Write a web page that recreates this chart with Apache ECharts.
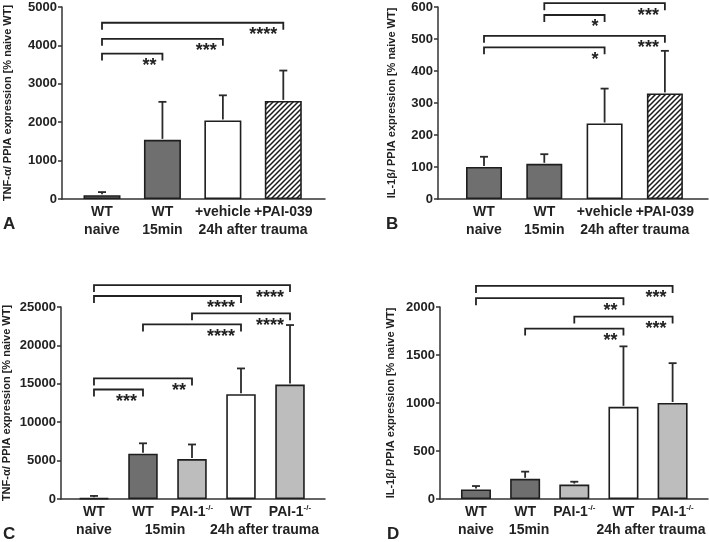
<!DOCTYPE html>
<html><head><meta charset="utf-8">
<script src="https://cdn.jsdelivr.net/npm/echarts@6/dist/echarts.min.js"></script>
<style>html,body{margin:0;padding:0;background:#fff}#c{width:709px;height:542px}</style>
</head><body><div id="c"></div>
<script>
// ---------- DATA ----------
// Panel A : TNF-alpha, PAI-039 treatment
const catsA = ['WT', 'WT', '+vehicle', '+PAI-039'];
const groupsA = ['naive', '15min', '24h after trauma'];
const groupPosA = [0, 1, 2.5];
const meanA = [100, 1540, 2045, 2555];
const errTopA = [180, 2530, 2700, 3345];
const bracketsA = [[0, 3, 4590, '****'], [0, 2, 4170, '***'], [0, 1, 3786, '**']];
const yAxisA = { max: 5000, interval: 1000 };

// Panel B : IL-1beta, PAI-039 treatment
const catsB = ['WT', 'WT', '+vehicle', '+PAI-039'];
const groupsB = ['naive', '15min', '24h after trauma'];
const groupPosB = [0, 1, 2.5];
const meanB = [100, 110, 236, 330];
const errTopB = [132, 140, 345, 463];
const bracketsB = [[1, 3, 612, '***'], [1, 2, 575, '*'], [0, 3, 510, '***'], [0, 2, 474, '*']];
const yAxisB = { max: 600, interval: 100 };

// Panel C : TNF-alpha, PAI-1 knockout
const catsC = ['WT', 'WT', 'PAI-1', 'WT', 'PAI-1'];
const supC = [false, false, true, false, true];
const groupsC = ['naive', '15min', '24h after trauma'];
const groupPosC = [0, 1.45, 3.48];
const meanC = [100, 5900, 5200, 13650, 14900];
const errTopC = [400, 7250, 7100, 17000, 22650];
const bracketsC = [[0, 4, 27860, '****'], [0, 3, 26430, '****'], [2, 4, 24170, '****'],
                   [1, 3, 22730, '****'], [0, 2, 15700, '**'], [0, 1, 14260, '***']];
const yAxisC = { max: 25000, interval: 5000 };

// Panel D : IL-1beta, PAI-1 knockout
const catsD = ['WT', 'WT', 'PAI-1', 'WT', 'PAI-1'];
const supD = [false, false, true, false, true];
const groupsD = ['naive', '15min', '24h after trauma'];
const groupPosD = [0, 1.08, 3.56];
const meanD = [100, 210, 150, 960, 1000];
const errTopD = [135, 285, 180, 1590, 1415];
const bracketsD = [[0, 4, 2220, '***'], [0, 3, 2092, '**'], [2, 4, 1900, '***'], [1, 3, 1775, '**']];
const yAxisD = { max: 2000, interval: 500 };

// ---------- STYLE ----------
const fillsAB = ['dark', 'dark', 'white', 'hatch'];
const fillsCD = ['dark', 'dark', 'light', 'white', 'light'];
const FONT = '"Liberation Sans", Arial, Helvetica, sans-serif';
const INK = '#222';

function hatchCanvas() {
  const s = 5;
  const c = document.createElement('canvas'); c.width = s; c.height = s;
  const g = c.getContext('2d');
  g.fillStyle = '#fff'; g.fillRect(0, 0, s, s);
  g.strokeStyle = '#1a1a1a'; g.lineWidth = 1.5;
  g.beginPath();
  g.moveTo(-1, s + 1); g.lineTo(s + 1, -1);
  g.moveTo(-s - 1, s + 1); g.lineTo(1, -1);
  g.moveTo(-1, 2 * s + 1); g.lineTo(2 * s + 1, -1);
  g.stroke();
  return c;
}
const HATCH = { image: hatchCanvas(), repeat: 'repeat' };
function fillColor(k) {
  return k === 'dark' ? '#6f6f6f' : k === 'light' ? '#bdbdbd' : k === 'hatch' ? HATCH : '#ffffff';
}

const grids = [], xAxes = [], yAxes = [], series = [];

function addPanel(p) {
  const idx = grids.length;
  grids.push(p.grid);
  xAxes.push({
    gridIndex: idx, type: 'value', min: p.xMin, max: p.xMax,
    axisLine: { show: true, onZero: false, lineStyle: { color: '#333', width: 1.5 } },
    axisTick: { show: false }, axisLabel: { show: false }, splitLine: { show: false }
  });
  yAxes.push({
    gridIndex: idx, type: 'value', min: 0, max: p.yAxis.max, interval: p.yAxis.interval,
    name: p.name, nameLocation: 'middle', nameGap: p.nameGap,
    nameTextStyle: { fontSize: 11, fontWeight: 'bold', color: INK, fontFamily: FONT },
    axisLine: { show: true, onZero: false, lineStyle: { color: '#333', width: 1.5 } },
    axisTick: { show: true, length: 4, lineStyle: { color: '#333', width: 1.5 } },
    axisLabel: { fontSize: 13, fontWeight: 'bold', color: INK, margin: 5, fontFamily: FONT,
      formatter: v => String(v) },
    splitLine: { show: false }
  });
  // bars
  series.push({
    type: 'bar', xAxisIndex: idx, yAxisIndex: idx, barWidth: p.barWidth, silent: true,
    data: p.mean.map((v, i) => ({ value: [i, v], itemStyle: { color: fillColor(p.fills[i]) } })),
    itemStyle: { borderColor: '#1e1e1e', borderWidth: 1.6 }, z: 2
  });
  // error bars (upper only)
  series.push({
    type: 'custom', xAxisIndex: idx, yAxisIndex: idx, silent: true, clip: false, z: 3,
    data: p.mean.map((v, i) => [i, v, p.errTop[i]]),
    renderItem: function (params, api) {
      const a = api.coord([api.value(0), api.value(1)]);
      const b = api.coord([api.value(0), api.value(2)]);
      const st = { stroke: '#2a2a2a', lineWidth: 1.8 };
      return { type: 'group', children: [
        { type: 'line', shape: { x1: a[0], y1: a[1] - 1, x2: b[0], y2: b[1] }, style: st },
        { type: 'line', shape: { x1: b[0] - 4, y1: b[1], x2: b[0] + 4, y2: b[1] }, style: st }
      ] };
    }
  });
  // significance brackets
  series.push({
    type: 'custom', xAxisIndex: idx, yAxisIndex: idx, silent: true, clip: false, z: 4,
    data: p.brackets.map(b => [b[0], b[2], b[1]]),
    renderItem: function (params, api) {
      const a = api.coord([api.value(0), api.value(1)]);
      const b = api.coord([api.value(2), api.value(1)]);
      const stars = p.brackets[params.dataIndex][3];
      return { type: 'group', children: [
        { type: 'polyline', shape: { points: [[a[0], a[1] + 7], [a[0], a[1]], [b[0], b[1]], [b[0], b[1] + 7]] },
          style: { stroke: INK, lineWidth: 1.8, fill: null } },
        { type: 'text', x: b[0] - 6, y: a[1] + 12.5,
          style: { text: stars, fill: INK, font: 'bold 18px ' + FONT, align: 'right', verticalAlign: 'middle' } }
      ] };
    }
  });
  // category labels (row 1) and group labels (row 2)
  const labelData = p.cats.map((c, i) => [i, 0, 1]).concat(p.groupPos.map((g, i) => [g, 0, 2]));
  series.push({
    type: 'custom', xAxisIndex: idx, yAxisIndex: idx, silent: true, clip: false, z: 5,
    data: labelData,
    renderItem: function (params, api) {
      const pt = api.coord([api.value(0), 0]);
      const row = api.value(2);
      const di = params.dataIndex;
      let text;
      if (row === 1) {
        const sup = p.sup && p.sup[di];
        text = sup ? '{n|' + p.cats[di] + '}{s|-/-}' : '{n|' + p.cats[di] + '}';
      } else {
        text = '{n|' + p.groups[di - p.cats.length] + '}';
      }
      const rich = {
        n: { fontSize: 14, fontWeight: 'bold', fontFamily: FONT, fill: INK, lineHeight: 16 },
        s: { fontSize: 8, fontWeight: 'bold', fontFamily: FONT, fill: INK, lineHeight: 16, verticalAlign: 'top' }
      };
      return { type: 'text', x: pt[0], y: pt[1] + (row === 1 ? 13 : 31),
        style: { text: text, rich: rich, align: 'center', verticalAlign: 'middle' } };
    }
  });
}

addPanel({ grid: { left: 62, top: 7, width: 263, height: 192 }, xMin: -0.662, xMax: 3.69,
  yAxis: yAxisA, name: 'TNF-\u03b1/ PPIA expression [% naive WT]', nameGap: 49, barWidth: 37,
  mean: meanA, errTop: errTopA, brackets: bracketsA, fills: fillsAB,
  cats: catsA, groups: groupsA, groupPos: groupPosA });
addPanel({ grid: { left: 438, top: 7, width: 270, height: 192 }, xMin: -0.763, xMax: 3.715,
  yAxis: yAxisB, name: 'IL-1\u03b2/ PPIA expression [% naive WT]', nameGap: 41, barWidth: 36,
  mean: meanB, errTop: errTopB, brackets: bracketsB, fills: fillsAB,
  cats: catsB, groups: groupsB, groupPos: groupPosB });
addPanel({ grid: { left: 61, top: 307, width: 264, height: 192 }, xMin: -0.673, xMax: 4.714,
  yAxis: yAxisC, name: 'TNF-\u03b1/ PPIA expression [% naive WT]', nameGap: 49, barWidth: 29.5,
  mean: meanC, errTop: errTopC, brackets: bracketsC, fills: fillsCD,
  cats: catsC, sup: supC, groups: groupsC, groupPos: groupPosC });
addPanel({ grid: { left: 440, top: 307, width: 268, height: 192 }, xMin: -0.732, xMax: 4.72,
  yAxis: yAxisD, name: 'IL-1\u03b2/ PPIA expression [% naive WT]', nameGap: 44, barWidth: 30,
  mean: meanD, errTop: errTopD, brackets: bracketsD, fills: fillsCD,
  cats: catsD, sup: supD, groups: groupsD, groupPos: groupPosD });

const letterFont = 'bold 17px ' + FONT;
const chart = echarts.init(document.getElementById('c'), null, { renderer: 'canvas' });
chart.setOption({
  backgroundColor: '#fff',
  animation: false,
  textStyle: { fontFamily: FONT },
  grid: grids, xAxis: xAxes, yAxis: yAxes, series: series,
  graphic: [
    { type: 'text', left: 3, top: 216, style: { text: 'A', font: letterFont, fill: INK } },
    { type: 'text', left: 386, top: 216, style: { text: 'B', font: letterFont, fill: INK } },
    { type: 'text', left: 3, top: 526, style: { text: 'C', font: letterFont, fill: INK } },
    { type: 'text', left: 387, top: 526, style: { text: 'D', font: letterFont, fill: INK } }
  ]
});
</script></body></html>
